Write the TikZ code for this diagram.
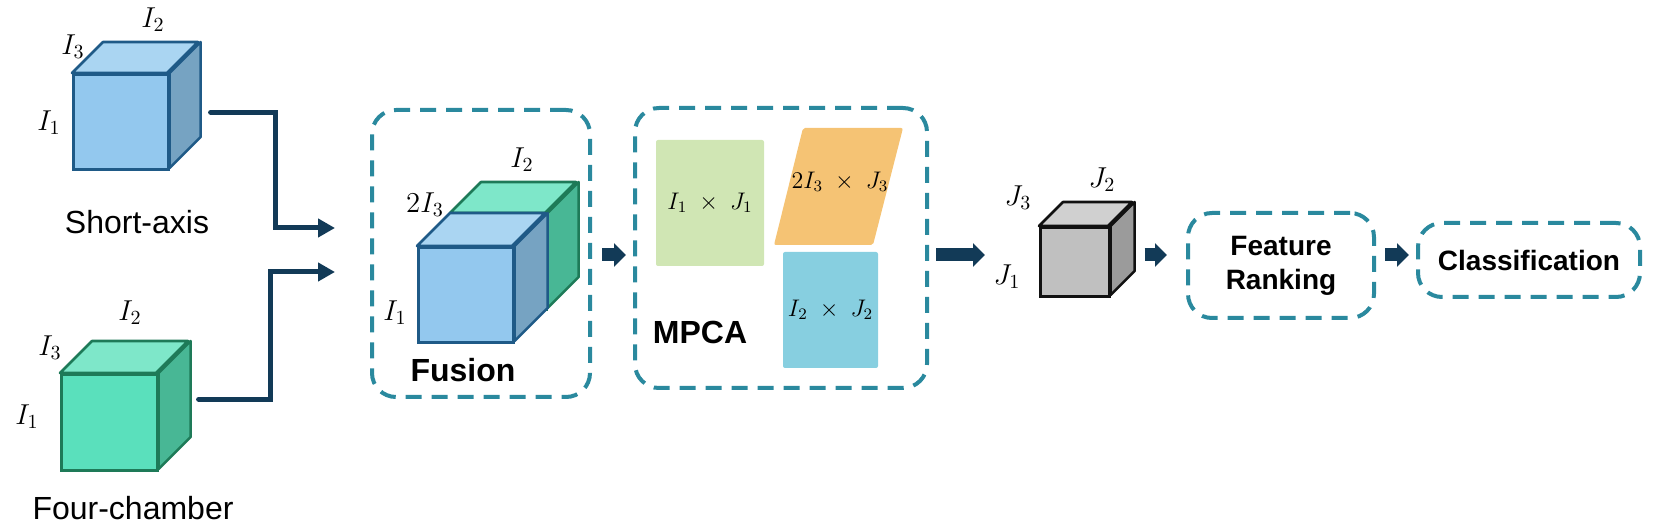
\documentclass[tikz,border=0pt]{standalone}
\usepackage[no-math]{fontspec}
\setsansfont{Liberation Sans}
\usepackage{tikz}
\usetikzlibrary{arrows.meta,positioning,calc}
\definecolor{dashc}{HTML}{2A899E}
\definecolor{navy}{HTML}{123A57}
\definecolor{blufront}{HTML}{93C8EE}\definecolor{blutop}{HTML}{AAD5F2}
\definecolor{bluside}{HTML}{76A3C2}\definecolor{bluline}{HTML}{1F5A87}
\definecolor{grnfront}{HTML}{5AE0BC}\definecolor{grntop}{HTML}{7EE7C9}
\definecolor{grnside}{HTML}{48B795}\definecolor{grnline}{HTML}{1E7A58}
\definecolor{gryfront}{HTML}{C0C0C0}\definecolor{grytop}{HTML}{D0D0D0}
\definecolor{gryside}{HTML}{9B9B9B}\definecolor{gryline}{HTML}{111111}
\definecolor{rgreen}{HTML}{D0E6B4}
\definecolor{rorange}{HTML}{F5C374}
\definecolor{rblue}{HTML}{87CFE0}
% cube: corner, size, depth, colour family, name
\newcommand{\drawcube}[5]{%
 \node[draw=#4line,fill=#4front,line width=1.3pt,inner sep=0,minimum size=#2*0.5pt,anchor=north west] (#5) at #1 {};
 \filldraw[draw=#4line,fill=#4top,line width=1.3pt,line join=round] (#5.north west) -- ++(#3,-#3) -- ++(#2,0) -- ++(-#3,#3) -- cycle;
 \filldraw[draw=#4line,fill=#4side,line width=1.3pt,line join=round] (#5.north east) -- ++(#3,-#3) -- ++(0,#2) -- ++(-#3,#3) -- cycle;}

\begin{document}
\begin{tikzpicture}[x=0.5pt,y=-0.5pt,
 dbox/.style={draw=dashc,line width=2pt,dash pattern=on 8pt off 5pt,rounded corners=12pt,align=center,
  font=\sffamily\bfseries\fontsize{14}{17}\selectfont},
 lab/.style={inner sep=0,font=\fontsize{14.4}{17}\selectfont},
 txt/.style={font=\sffamily\fontsize{16}{19}\selectfont},
 btxt/.style={font=\sffamily\bfseries\fontsize{16}{19}\selectfont},
 mat/.style={inner sep=0,rounded corners=1pt,font=\fontsize{12}{14}\selectfont},
 arr/.style={draw=navy,line width=6.5pt,-{Triangle[length=6pt,width=11.5pt]}},
 elb/.style={draw=navy,line width=2.5pt,line cap=round,-{Triangle[length=8.5pt,width=9pt]}}]
\useasboundingbox (0,0) rectangle (1661,528);

% inputs
\drawcube{(72,73)}{95}{31}{blu}{sa}
\node[lab] (sa2) at (153,20) {$I_2$};
\node[lab] (sa3) at (73,47) {$I_3$};
\node[lab] (sa1) at (49,123) {$I_1$};
\node[txt] (san) at (137,222) {Short-axis};

\drawcube{(60,373)}{96}{32}{grn}{fc}
\node[lab] (fc2) at (130,313) {$I_2$};
\node[lab] (fc3) at (50,348) {$I_3$};
\node[lab] (fc1) at (27,417) {$I_1$};
\node[txt] (fcn) at (133,508) {Four-chamber};

% fusion
\node[dbox,minimum width=109pt,minimum height=143.5pt] (fus) at (481,253.5) {};
\drawcube{(450,213)}{95}{31}{grn}{fg}
\drawcube{(417,246)}{95}{33}{blu}{fb}
\node[lab] (fu2) at (522,160) {$I_2$};
\node[lab] (fu3) at (425,205) {$2I_3$};
\node[lab] (fu1) at (395,313) {$I_1$};
\node[btxt] (fun) at (463,370) {Fusion};

% mpca
\node[dbox,minimum width=146pt,minimum height=140pt] (mp) at (781,248) {};
\node[mat,fill=rgreen,minimum width=54pt,minimum height=63pt] (m1) at (710,203) {$I_1\;\times\;J_1$};
\fill[rorange,rounded corners=1pt] (803,128) -- (903,128) -- (873,245) -- (774,245) -- cycle;
\node[mat] (m3) at (840,182) {$2I_3\;\times\;J_3$};
\node[mat,fill=rblue,minimum width=47.5pt,minimum height=58pt] (m2) at (830.5,310) {$I_2\;\times\;J_2$};
\node[btxt] (mpn) at (700,332) {MPCA};

% core tensor
\drawcube{(1039,226)}{69}{24}{gry}{jc}
\node[lab] (jc2) at (1102,180) {$J_2$};
\node[lab] (jc3) at (1018,198) {$J_3$};
\node[lab] (jc1) at (1007,277) {$J_1$};

\node[dbox,minimum width=93pt,minimum height=52.5pt] (fr) at (1281,265.5) {Feature\\Ranking};
\node[dbox,minimum width=111pt,minimum height=37pt] (cl) at (1529,260) {Classification};

% arrows
\coordinate (in1) at (335,228);
\coordinate (in2) at (335,272);
\coordinate (mid) at (0,255);
\draw[elb] ([shift={(41,-9.5)}]sa.east) -- ++(65,0) |- (in1);
\draw[elb] ([shift={(40,-23)}]fc.east) -- ++(72,0) |- (in2);
\draw[arr,shorten <=5pt,shorten >=3.5pt] (fus.east |- mid) -- (mp.west |- mid);
\draw[arr,shorten <=3.5pt,shorten >=27pt] (mp.east |- mid) -- (jc.west |- mid);
\draw[arr,shorten <=17pt,shorten >=9.5pt] (jc.east |- mid) -- (fr.west |- mid);
\draw[arr,shorten <=4.5pt,shorten >=3.5pt] (fr.east |- mid) -- (cl.west |- mid);
\end{tikzpicture}
\end{document}
